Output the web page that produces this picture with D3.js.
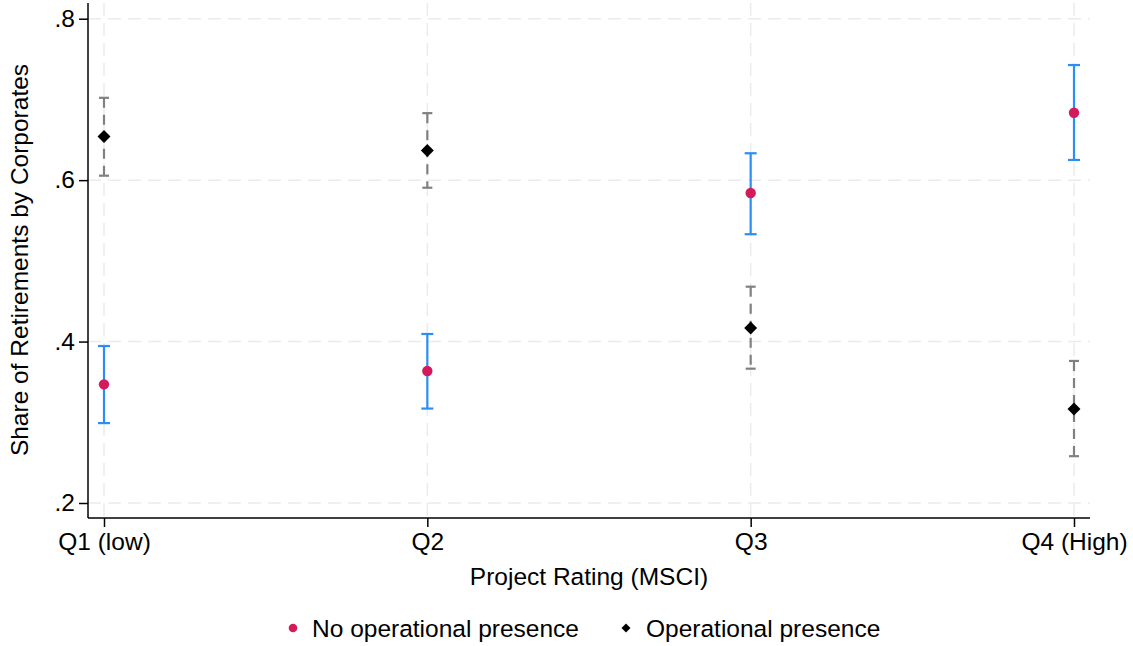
<!DOCTYPE html>
<html>
<head>
<meta charset="utf-8">
<script src="https://cdn.jsdelivr.net/npm/d3@7"></script>
<style>
  html, body { margin: 0; padding: 0; background: #fff; }
  svg { display: block; font-family: "Liberation Sans", Arial, sans-serif; }
</style>
</head>
<body>
<svg id="chart" width="1133" height="646"></svg>
<script>
// Project rating quartiles
const categories = ["Q1 (low)", "Q2", "Q3", "Q4 (High)"];

// Share of retirements by corporates: point estimate with 95% CI
const noPresenceMean = [0.347, 0.3635, 0.584, 0.6835];
const noPresenceLow  = [0.299, 0.317, 0.533, 0.625];
const noPresenceHigh = [0.3945, 0.4094, 0.6333, 0.7426];

const presenceMean = [0.654, 0.6366, 0.4168, 0.3165];
const presenceLow  = [0.6055, 0.5906, 0.3664, 0.258];
const presenceHigh = [0.702, 0.683, 0.468, 0.376];

const yTicks = [0.2, 0.4, 0.6, 0.8];
const seriesNames = ["No operational presence", "Operational presence"];

const svg = d3.select("#chart");
const FONT = 24.5;

const x = d3.scalePoint().domain(categories).range([104, 1074]);
const y = d3.scaleLinear().domain([0.2, 0.8]).range([503, 18.7]);

const axisLeft = 88, axisRight = 1090, axisTop = 3, axisBottom = 518;

// Grid
const grid = svg.append("g").attr("stroke", "#ebebeb").attr("stroke-width", 1.5)
  .attr("stroke-dasharray", "13,7");
grid.selectAll("line.h").data(yTicks).join("line").attr("class", "h")
  .attr("x1", axisLeft).attr("x2", axisRight)
  .attr("y1", d => y(d)).attr("y2", d => y(d));
grid.selectAll("line.v").data(categories).join("line").attr("class", "v")
  .attr("x1", d => x(d)).attr("x2", d => x(d))
  .attr("y1", axisTop).attr("y2", axisBottom);

// Axes
const fmt = d => d3.format(".1f")(d).replace(/^0/, "");
const yAxis = svg.append("g").attr("transform", `translate(${axisLeft},0)`)
  .call(d3.axisLeft(y).tickValues(yTicks).tickFormat(fmt).tickSize(9).tickPadding(4));
yAxis.select(".domain").remove();
svg.append("line").attr("x1", axisLeft).attr("x2", axisLeft)
  .attr("y1", axisTop).attr("y2", axisBottom).attr("stroke", "#000").attr("stroke-width", 1.5);

const xAxis = svg.append("g").attr("transform", `translate(0,${axisBottom})`)
  .call(d3.axisBottom(x).tickSize(9).tickPadding(6));
xAxis.select(".domain").remove();
svg.append("line").attr("x1", axisLeft).attr("x2", axisRight)
  .attr("y1", axisBottom).attr("y2", axisBottom).attr("stroke", "#000").attr("stroke-width", 1.5);

svg.selectAll(".tick line").attr("stroke", "#000").attr("stroke-width", 1.5);
svg.selectAll(".tick text").attr("font-size", FONT).attr("fill", "#000")
  .attr("font-family", "Liberation Sans, Arial, sans-serif");

// Axis titles
svg.append("text").attr("x", 589).attr("y", 585).attr("text-anchor", "middle")
  .attr("font-size", FONT).text("Project Rating (MSCI)");
svg.append("text").attr("transform", "translate(28,260) rotate(-90)")
  .attr("text-anchor", "middle").attr("font-size", FONT)
  .text("Share of Retirements by Corporates");

// Error bars
function errorBars(low, high, color, dash, capHalf) {
  const g = svg.append("g").attr("stroke", color).attr("stroke-width", 2.2);
  const rows = categories.map((c, i) => ({ c, lo: low[i], hi: high[i] }));
  g.selectAll("line.bar").data(rows).join("line").attr("class", "bar")
    .attr("x1", d => x(d.c)).attr("x2", d => x(d.c))
    .attr("y1", d => y(d.hi)).attr("y2", d => y(d.lo))
    .attr("stroke-dasharray", dash);
  g.selectAll("line.capHi").data(rows).join("line").attr("class", "capHi")
    .attr("x1", d => x(d.c) - capHalf).attr("x2", d => x(d.c) + capHalf)
    .attr("y1", d => y(d.hi)).attr("y2", d => y(d.hi));
  g.selectAll("line.capLo").data(rows).join("line").attr("class", "capLo")
    .attr("x1", d => x(d.c) - capHalf).attr("x2", d => x(d.c) + capHalf)
    .attr("y1", d => y(d.lo)).attr("y2", d => y(d.lo));
}

const red = "#d51a5b", blue = "#2b8ef7", gray = "#808080";

errorBars(noPresenceLow, noPresenceHigh, blue, null, 6);
svg.append("g").selectAll("circle").data(categories).join("circle")
  .attr("cx", d => x(d)).attr("cy", (d, i) => y(noPresenceMean[i])).attr("r", 5.2)
  .attr("fill", red);

errorBars(presenceLow, presenceHigh, gray, "10,7", 5);
const diamond = d3.symbol().type(d3.symbolSquare).size(84);
svg.append("g").selectAll("path").data(categories).join("path")
  .attr("d", diamond)
  .attr("transform", (d, i) => `translate(${x(d)},${y(presenceMean[i])}) rotate(45)`)
  .attr("fill", "#000");

// Legend
const legend = svg.append("g").attr("font-size", FONT);
legend.append("circle").attr("cx", 293).attr("cy", 628).attr("r", 4.3).attr("fill", red);
legend.append("text").attr("x", 312).attr("y", 637).text(seriesNames[0]);
legend.append("path").attr("d", d3.symbol().type(d3.symbolSquare).size(40))
  .attr("transform", "translate(626,628) rotate(45)").attr("fill", "#000");
legend.append("text").attr("x", 646).attr("y", 637).text(seriesNames[1]);
</script>
</body>
</html>
